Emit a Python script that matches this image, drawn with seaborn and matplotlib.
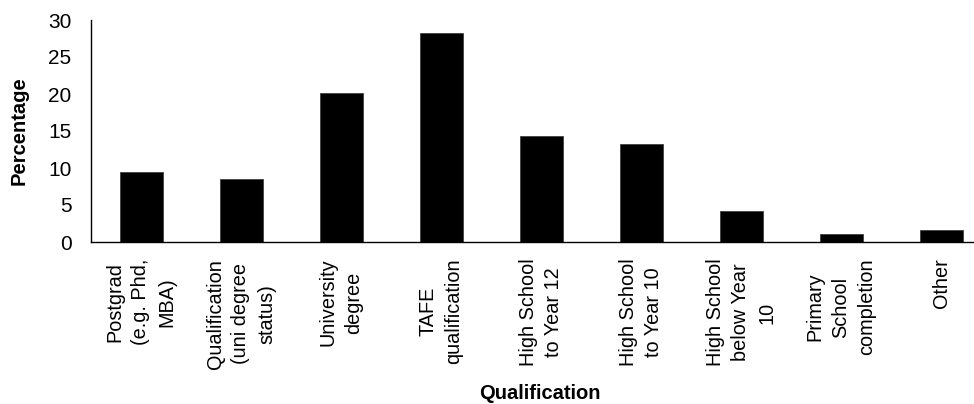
import matplotlib
matplotlib.use("Agg")
import matplotlib.pyplot as plt
import seaborn as sns
import numpy as np

categories = [
    "Postgrad\n(e.g. Phd,\nMBA)",
    "Qualification\n(uni degree\nstatus)",
    "University\ndegree",
    "TAFE\nqualification",
    "High School\nto Year 12",
    "High School\nto Year 10",
    "High School\nbelow Year\n10",
    "Primary\nSchool\ncompletion",
    "Other",
]
values = [9.45, 8.45, 20.1, 28.3, 14.3, 13.3, 4.15, 1.05, 1.6]
yticks = [0, 5, 10, 15, 20, 25, 30]

sns.set_style("white")
plt.rcParams["font.family"] = ["Liberation Sans", "DejaVu Sans"]
plt.rcParams["text.color"] = "black"
plt.rcParams["axes.labelcolor"] = "black"
plt.rcParams["xtick.color"] = "black"
plt.rcParams["ytick.color"] = "black"

fig = plt.figure(figsize=(9.74, 4.04), dpi=100)
ax = fig.add_axes([91 / 974, 162 / 404, 900 / 974, 222 / 404])

sns.barplot(x=categories, y=values, color="black", saturation=1, width=0.43,
            edgecolor="#404040", linewidth=0.6, ax=ax)

ax.set_xlim(-0.5, len(categories) - 0.5)
ax.set_ylim(0, 30)
ax.set_yticks(yticks)
ax.set_yticklabels([str(t) for t in yticks], fontsize=15)

ax.set_xticks(np.arange(len(categories)))
ax.set_xticklabels(categories, rotation=90, ha="center", va="top",
                   multialignment="center", fontsize=14.3, linespacing=1.45)
ax.set_xticks(np.arange(len(categories) + 1) - 0.5, minor=True)
ax.tick_params(axis="x", which="major", length=0, pad=12)
ax.tick_params(axis="x", which="minor", length=5, width=1, color="black", direction="out")
ax.tick_params(axis="y", which="major", length=8, width=1, color="black", direction="out", pad=6)

for s in ["top", "right"]:
    ax.spines[s].set_visible(False)
for s in ["left", "bottom"]:
    ax.spines[s].set_color("black")
    ax.spines[s].set_linewidth(1)

ax.set_ylabel("Percentage", fontsize=14.5, fontweight="bold")
ax.yaxis.set_label_coords(-(91 - 29) / 900, 0.5)
ax.set_xlabel("Qualification", fontsize=14.5, fontweight="bold")
ax.xaxis.set_label_coords((540 - 91) / 900, -(384 - 242) / 222)

fig.savefig("out.png", dpi=100, facecolor="white")
